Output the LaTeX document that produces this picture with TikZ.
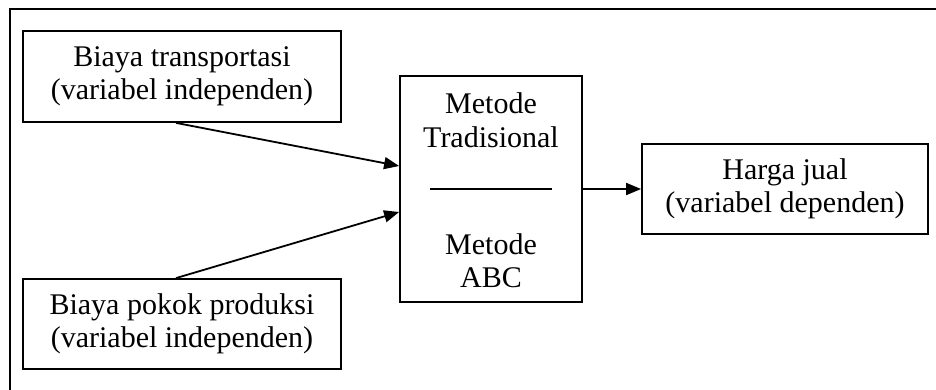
\documentclass[tikz,border=0pt]{standalone}
\usepackage{fontspec}
\setmainfont{Liberation Serif}
\usetikzlibrary{arrows.meta,calc}
\begin{document}
\begin{tikzpicture}[x=1pt,y=-1pt,
  txt/.style={font=\fontsize{30}{33}\selectfont},
  box/.style={txt,draw,line width=1.8pt,align=center,inner sep=0pt},
  lbl/.style={txt,inner sep=0pt,anchor=base},
  link/.style={line width=1.8pt,-{Triangle[length=15pt,width=12pt]}}]
\useasboundingbox (0,0) rectangle (936,390);
% open frame (top and left edges)
\draw[line width=2.2pt] (10,390) -- (10,9) -- (936,9);

% input variables
\node[box,minimum width=318pt,minimum height=91pt] (transport) at (182,76.5)
  {Biaya transportasi\\(variabel independen)};
\node[box,minimum width=318pt,minimum height=90pt] (produksi) at (182,324)
  {Biaya pokok produksi\\(variabel independen)};

% method box
\node[draw,line width=1.8pt,minimum width=182pt,minimum height=226pt,inner sep=0pt] (metode) at (491,189) {};
\node[lbl] (m1) at (491,114) {Metode};
\node[lbl] (m2) at (491,148) {Tradisional};
\node[lbl] (m3) at (491,254) {Metode};
\node[lbl] (m4) at (491,287) {ABC};
\draw[line width=1.8pt] ($(metode.center)+(-61,0)$) -- ($(metode.center)+(61,0)$);

% output variable
\node[box,minimum width=286pt,minimum height=90pt] (harga) at (785,189)
  {Harga jual\\(variabel dependen)};

% connectors
\draw[link] ($(transport.south)+(-6,0)$) -- ($(metode.west)+(0,-23)$);
\draw[link] ($(produksi.north)+(-6,0)$) -- ($(metode.west)+(0,23)$);
\draw[link] (metode.east) -- (harga.west);
\end{tikzpicture}
\end{document}
